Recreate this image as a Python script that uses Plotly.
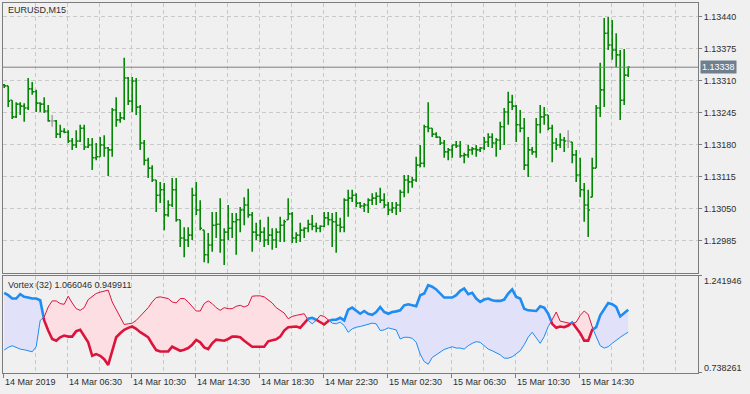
import numpy as np
import plotly.graph_objects as go

# ---------------- data ----------------
opens = [1.13302, 1.13300, 1.13271, 1.13237, 1.13263, 1.13259, 1.13255, 1.13294, 1.13288, 1.13265,
         1.13263, 1.13249, 1.13229, 1.13229, 1.13202, 1.13208, 1.13206, 1.13188, 1.13180, 1.13188,
         1.13214, 1.13176, 1.13180, 1.13154, 1.13156, 1.13180, 1.13174, 1.13170, 1.13251, 1.13231,
         1.13235, 1.13316, 1.13269, 1.13310, 1.13257, 1.13184, 1.13149, 1.13133, 1.13109, 1.13078,
         1.13089, 1.13038, 1.13058, 1.13089, 1.13028, 1.12991, 1.12987, 1.12997, 1.13078, 1.13048,
         1.13007, 1.12957, 1.12977, 1.13017, 1.13019, 1.12987, 1.13003, 1.13011, 1.13024, 1.13028,
         1.13048, 1.13058, 1.13038, 1.13003, 1.12997, 1.13003, 1.12987, 1.12997, 1.12987, 1.13003,
         1.13017, 1.13028, 1.13040, 1.12991, 1.12997, 1.13007, 1.13011, 1.13019, 1.13015, 1.13011,
         1.13015, 1.13032, 1.13028, 1.13024, 1.13017, 1.13013, 1.13068, 1.13072, 1.13078, 1.13062,
         1.13056, 1.13058, 1.13068, 1.13072, 1.13076, 1.13068, 1.13058, 1.13048, 1.13052, 1.13058,
         1.13084, 1.13109, 1.13105, 1.13109, 1.13139, 1.13143, 1.13217, 1.13214, 1.13202, 1.13196,
         1.13184, 1.13166, 1.13170, 1.13180, 1.13178, 1.13158, 1.13160, 1.13170, 1.13172, 1.13170,
         1.13174, 1.13186, 1.13196, 1.13184, 1.13190, 1.13217, 1.13247, 1.13267, 1.13259, 1.13221,
         1.13214, 1.13139, 1.13170, 1.13166, 1.13221, 1.13237, 1.13241, 1.13214, 1.13184, 1.13180,
         1.13190, 1.13188, 1.13186, 1.13160, 1.13119, 1.13089, 1.13058, 1.13074, 1.13133, 1.13255,
         1.13292, 1.13407, 1.13383, 1.13373, 1.13363, 1.13271, 1.13322]

highs = [1.13304, 1.13300, 1.13271, 1.13267, 1.13267, 1.13265, 1.13316, 1.13308, 1.13292, 1.13267,
         1.13277, 1.13261, 1.13241, 1.13231, 1.13221, 1.13214, 1.13210, 1.13194, 1.13210, 1.13221,
         1.13221, 1.13194, 1.13194, 1.13184, 1.13196, 1.13200, 1.13176, 1.13255, 1.13277, 1.13247,
         1.13357, 1.13318, 1.13318, 1.13316, 1.13261, 1.13190, 1.13154, 1.13139, 1.13109, 1.13105,
         1.13103, 1.13068, 1.13113, 1.13113, 1.13028, 1.13013, 1.13013, 1.13093, 1.13105, 1.13068,
         1.13007, 1.13001, 1.13044, 1.13044, 1.13072, 1.13011, 1.13058, 1.13042, 1.13042, 1.13054,
         1.13074, 1.13091, 1.13044, 1.13022, 1.13028, 1.13013, 1.13034, 1.13011, 1.13011, 1.13034,
         1.13028, 1.13072, 1.13044, 1.13003, 1.13022, 1.13013, 1.13028, 1.13038, 1.13022, 1.13017,
         1.13044, 1.13044, 1.13042, 1.13044, 1.13032, 1.13072, 1.13089, 1.13089, 1.13082, 1.13064,
         1.13062, 1.13072, 1.13082, 1.13084, 1.13093, 1.13082, 1.13064, 1.13064, 1.13064, 1.13089,
         1.13119, 1.13119, 1.13115, 1.13156, 1.13180, 1.13221, 1.13267, 1.13214, 1.13206, 1.13196,
         1.13190, 1.13174, 1.13180, 1.13188, 1.13188, 1.13164, 1.13180, 1.13176, 1.13180, 1.13176,
         1.13196, 1.13204, 1.13204, 1.13194, 1.13227, 1.13255, 1.13288, 1.13282, 1.13261, 1.13251,
         1.13235, 1.13196, 1.13176, 1.13235, 1.13261, 1.13257, 1.13241, 1.13221, 1.13194, 1.13204,
         1.13196, 1.13210, 1.13186, 1.13170, 1.13154, 1.13103, 1.13089, 1.13154, 1.13261, 1.13347,
         1.13438, 1.13440, 1.13434, 1.13407, 1.13373, 1.13375, 1.13340]

lows = [1.13296, 1.13257, 1.13233, 1.13235, 1.13241, 1.13227, 1.13251, 1.13282, 1.13247, 1.13247,
        1.13245, 1.13227, 1.13217, 1.13194, 1.13194, 1.13204, 1.13184, 1.13170, 1.13174, 1.13186,
        1.13170, 1.13174, 1.13129, 1.13149, 1.13156, 1.13156, 1.13117, 1.13156, 1.13217, 1.13225,
        1.13231, 1.13261, 1.13247, 1.13241, 1.13170, 1.13139, 1.13113, 1.13105, 1.13044, 1.13062,
        1.13007, 1.13034, 1.13054, 1.13024, 1.12973, 1.12952, 1.12973, 1.12987, 1.13038, 1.13007,
        1.12942, 1.12940, 1.12963, 1.12991, 1.12961, 1.12936, 1.12987, 1.12991, 1.12957, 1.13003,
        1.13017, 1.13032, 1.12963, 1.12987, 1.12983, 1.12973, 1.12977, 1.12967, 1.12971, 1.12983,
        1.12983, 1.13028, 1.12981, 1.12981, 1.12983, 1.12991, 1.13003, 1.13007, 1.13003, 1.13003,
        1.13013, 1.13017, 1.12973, 1.12961, 1.13003, 1.13003, 1.13034, 1.13064, 1.13054, 1.13052,
        1.13044, 1.13042, 1.13058, 1.13058, 1.13062, 1.13052, 1.13038, 1.13042, 1.13038, 1.13044,
        1.13074, 1.13082, 1.13093, 1.13105, 1.13135, 1.13135, 1.13206, 1.13196, 1.13194, 1.13180,
        1.13154, 1.13149, 1.13154, 1.13174, 1.13154, 1.13143, 1.13154, 1.13160, 1.13156, 1.13166,
        1.13170, 1.13176, 1.13174, 1.13156, 1.13170, 1.13180, 1.13221, 1.13251, 1.13186, 1.13206,
        1.13129, 1.13115, 1.13160, 1.13154, 1.13204, 1.13221, 1.13210, 1.13145, 1.13170, 1.13174,
        1.13166, 1.13174, 1.13143, 1.13105, 1.13074, 1.13024, 1.12993, 1.13074, 1.13133, 1.13237,
        1.13257, 1.13373, 1.13353, 1.13338, 1.13231, 1.13261, 1.13318]

closes = [1.13300, 1.13269, 1.13237, 1.13263, 1.13259, 1.13255, 1.13294, 1.13288, 1.13265, 1.13263,
          1.13249, 1.13229, 1.13229, 1.13202, 1.13208, 1.13206, 1.13188, 1.13180, 1.13188, 1.13214,
          1.13176, 1.13180, 1.13154, 1.13156, 1.13180, 1.13174, 1.13170, 1.13251, 1.13231, 1.13235,
          1.13316, 1.13269, 1.13310, 1.13257, 1.13184, 1.13149, 1.13133, 1.13109, 1.13078, 1.13089,
          1.13038, 1.13058, 1.13089, 1.13028, 1.12991, 1.12987, 1.12997, 1.13078, 1.13048, 1.13011,
          1.12957, 1.12977, 1.13017, 1.13019, 1.12987, 1.13003, 1.13011, 1.13024, 1.13028, 1.13048,
          1.13058, 1.13038, 1.13003, 1.12997, 1.13003, 1.12987, 1.12997, 1.12987, 1.13003, 1.13017,
          1.13024, 1.13040, 1.12991, 1.12997, 1.13007, 1.13011, 1.13019, 1.13015, 1.13011, 1.13015,
          1.13032, 1.13028, 1.13024, 1.13017, 1.13013, 1.13068, 1.13072, 1.13078, 1.13062, 1.13056,
          1.13058, 1.13068, 1.13072, 1.13076, 1.13068, 1.13058, 1.13048, 1.13052, 1.13058, 1.13084,
          1.13109, 1.13105, 1.13109, 1.13139, 1.13143, 1.13217, 1.13214, 1.13202, 1.13196, 1.13184,
          1.13166, 1.13170, 1.13180, 1.13178, 1.13158, 1.13160, 1.13170, 1.13172, 1.13170, 1.13174,
          1.13186, 1.13196, 1.13184, 1.13190, 1.13217, 1.13247, 1.13267, 1.13259, 1.13221, 1.13214,
          1.13139, 1.13170, 1.13166, 1.13221, 1.13237, 1.13241, 1.13214, 1.13184, 1.13180, 1.13190,
          1.13188, 1.13188, 1.13160, 1.13119, 1.13089, 1.13058, 1.13048, 1.13133, 1.13255, 1.13292,
          1.13407, 1.13383, 1.13373, 1.13363, 1.13271, 1.13322, 1.13338]

vi_plus = [1.15450, 1.14226, 1.12477, 1.12477, 1.14751, 1.13352, 1.13002, 1.12477, 1.12477, 1.11603,
           1.01109, 0.95863, 0.91491, 0.90616, 0.92365, 0.93239, 0.92715, 0.92715, 0.95513, 0.96213,
           0.93239, 0.89742, 0.82746, 0.83620, 0.82746, 0.80997, 0.78024, 0.85369, 0.92365, 0.94464,
           0.96213, 0.97262, 0.97961, 0.96737, 0.94988, 0.93764, 0.92365, 0.88867, 0.85719, 0.85020,
           0.85020, 0.85020, 0.87468, 0.86244, 0.85369, 0.85894, 0.86769, 0.88517, 0.90966, 0.89742,
           0.87118, 0.86244, 0.89217, 0.91141, 0.90966, 0.90616, 0.91491, 0.92715, 0.92715, 0.92365,
           0.90616, 0.89217, 0.87468, 0.87468, 0.87468, 0.87468, 0.90266, 0.90616, 0.91316, 0.92715,
           0.95863, 0.97612, 0.97961, 0.97961, 0.97262, 0.99361, 1.01984, 1.02509, 1.01459, 1.00235,
           0.99011, 1.00760, 1.01459, 1.01459, 1.02509, 1.01109, 1.06706, 1.07755, 1.06006, 1.04607,
           1.06006, 1.04607, 1.04083, 1.05482, 1.08105, 1.05482, 1.04607, 1.05482, 1.05832, 1.06356,
           1.08980, 1.09504, 1.08980, 1.08455, 1.14226, 1.15101, 1.19473, 1.18598, 1.17199, 1.15101,
           1.13002, 1.13002, 1.13002, 1.14226, 1.16500, 1.17724, 1.14751, 1.15450, 1.12477, 1.10728,
           1.11953, 1.12477, 1.11603, 1.11253, 1.11253, 1.11953, 1.15101, 1.17199, 1.13352, 1.12477,
           1.07231, 1.06356, 1.06356, 1.06006, 1.08455, 1.07755, 1.04607, 0.99361, 0.97262, 0.97961,
           0.97612, 0.98486, 1.00060, 0.97262, 0.94464, 0.90616, 0.90616, 0.96213, 0.97612, 1.03733,
           1.07231, 1.10204, 1.09504, 1.08105, 1.03208, 1.04957, 1.066046]

vi_minus = [0.85719, 0.87118, 0.87993, 0.87118, 0.86244, 0.85894, 0.85369, 0.84845, 0.87468, 1.01109,
            1.02858, 1.08105, 1.11253, 1.11253, 1.09854, 1.09504, 1.13702, 1.10204, 1.07231, 1.06356,
            1.07755, 1.11953, 1.13702, 1.15101, 1.15800, 1.16150, 1.16850, 1.10728, 1.06706, 1.02858,
            0.99011, 0.99361, 0.99710, 1.01109, 1.03208, 1.05482, 1.07755, 1.10728, 1.13002, 1.13352,
            1.13002, 1.12477, 1.10728, 1.10204, 1.12477, 1.12477, 1.10728, 1.08105, 1.06006, 1.06006,
            1.09854, 1.11253, 1.09854, 1.07755, 1.06356, 1.07755, 1.07231, 1.07231, 1.08455, 1.08980,
            1.08105, 1.08980, 1.13702, 1.13876, 1.13876, 1.13352, 1.11603, 1.10204, 1.07755, 1.06356,
            1.04957, 1.01984, 1.03208, 1.03733, 1.04258, 1.04607, 1.01109, 0.99361, 1.01109, 1.03733,
            1.03208, 1.01459, 0.99710, 0.99361, 1.00235, 0.98486, 0.94988, 0.96737, 0.97612, 0.97961,
            0.98486, 0.99011, 0.99710, 0.99361, 0.95863, 0.96213, 0.97262, 0.96737, 0.96213, 0.91491,
            0.92365, 0.92365, 0.91840, 0.89742, 0.83620, 0.79773, 0.78374, 0.81872, 0.83271, 0.85020,
            0.86069, 0.86769, 0.87468, 0.86769, 0.86769, 0.86244, 0.87993, 0.89217, 0.90092, 0.89742,
            0.87993, 0.86244, 0.85369, 0.84495, 0.83271, 0.81522, 0.81522, 0.82221, 0.83620, 0.85369,
            0.88517, 0.92365, 0.94988, 0.92365, 0.89217, 0.92715, 0.97961, 1.01459, 1.05482, 1.00760,
            1.00235, 0.99710, 0.99361, 1.00235, 1.03733, 1.06006, 1.04258, 0.97612, 0.92365, 0.87993,
            0.86769, 0.87468, 0.89217, 0.90966, 0.92365, 0.93764, 0.949911]

price_ticks = [1.12985, 1.13050, 1.13115, 1.13180, 1.13245, 1.13310, 1.13375, 1.13440]
vortex_range = [0.738261, 1.241946]
x_tick_bars = [0, 16, 32, 48, 64, 80, 96, 112, 128, 144]
x_tick_labels = ["14 Mar 2019", "14 Mar 06:30", "14 Mar 10:30", "14 Mar 14:30", "14 Mar 18:30",
                 "14 Mar 22:30", "15 Mar 02:30", "15 Mar 06:30", "15 Mar 10:30", "15 Mar 14:30"]
symbol_title = "EURUSD,M15"
vortex_period = 32

# ---------------- style ----------------
FONT = "Liberation Sans"
TXT = "#2E2E2E"
FRAME = "#7C7C7C"
GRID = "#C9C9C9"
BG = "#F0F0F0"
BAR = "#068806"
DOJI = "#A8A8A8"
BLUE = "#1E8CF0"
RED = "#DC143C"
BLUE_FILL = "#E1E1FA"
RED_FILL = "#FDDFE3"

n = len(closes)
xi = np.arange(n)
X_RANGE = [-0.3, 173.45]
grid_pos = [8 * m - 0.3 for m in range(22)]
tick_pos = [b - 0.3 for b in x_tick_bars]

fig = go.Figure()

# ---------------- price bars ----------------
o = np.array(opens); h = np.array(highs); l = np.array(lows); c = np.array(closes)
neutral = o == c
normal = ~neutral
fig.add_trace(go.Ohlc(
    x=xi[normal], open=o[normal], high=h[normal], low=l[normal], close=c[normal],
    increasing=dict(line=dict(color=BAR, width=1.6)),
    decreasing=dict(line=dict(color=BAR, width=1.6)),
    tickwidth=0.45, xaxis="x", yaxis="y", hoverinfo="skip", showlegend=False))
fig.add_trace(go.Ohlc(
    x=xi[neutral], open=o[neutral], high=h[neutral], low=l[neutral], close=c[neutral],
    increasing=dict(line=dict(color=DOJI, width=1.6)),
    decreasing=dict(line=dict(color=DOJI, width=1.6)),
    tickwidth=0.45, xaxis="x", yaxis="y", hoverinfo="skip", showlegend=False))

# ---------------- vortex ----------------
vp = np.array(vi_plus); vm = np.array(vi_minus)
up = vp >= vm
segments = []
start = 0
for i in range(1, n + 1):
    if i == n or up[i] != up[start]:
        segments.append((start, i - 1))
        start = i


def cross(i):
    d0 = vp[i] - vm[i]
    d1 = vp[i + 1] - vm[i + 1]
    t = d0 / (d0 - d1)
    return i + t, vp[i] + t * (vp[i + 1] - vp[i]), vm[i] + t * (vm[i + 1] - vm[i])


seg_data = []
for a, b in segments:
    xs = list(xi[a:b + 1].astype(float)); ps = list(vp[a:b + 1]); ms = list(vm[a:b + 1])
    if a > 0:
        xc, pc, mc = cross(a - 1)
        xs.insert(0, xc); ps.insert(0, pc); ms.insert(0, mc)
    if b < n - 1:
        xc, pc, mc = cross(b)
        xs.append(xc); ps.append(pc); ms.append(mc)
    seg_data.append((xs, ps, ms, bool(up[a])))

for xs, ps, ms, is_up in seg_data:
    fig.add_trace(go.Scatter(
        x=xs + xs[::-1], y=ps + ms[::-1], fill="toself",
        fillcolor=BLUE_FILL if is_up else RED_FILL, line=dict(width=0),
        mode="lines", xaxis="x2", yaxis="y2", hoverinfo="skip", showlegend=False))

for xs, ps, ms, is_up in seg_data:
    col = BLUE if is_up else RED
    fig.add_trace(go.Scatter(x=xs, y=ms, mode="lines", line=dict(color=col, width=1),
                             xaxis="x2", yaxis="y2", hoverinfo="skip", showlegend=False))
    fig.add_trace(go.Scatter(x=xs, y=ps, mode="lines", line=dict(color=col, width=2.6),
                             xaxis="x2", yaxis="y2", hoverinfo="skip", showlegend=False))

# ---------------- layout ----------------
main_dom = [0.2703, 1.0]
ind_dom = [0.0, 0.2622]

axis_font = dict(family=FONT, size=9, color=TXT)

fig.update_layout(
    width=750, height=394,
    margin=dict(l=3, r=52, t=3, b=21),
    paper_bgcolor=BG, plot_bgcolor=BG,
    showlegend=False,
    font=axis_font,
    xaxis=dict(domain=[0, 1], anchor="y", range=X_RANGE, rangeslider=dict(visible=False),
               tickmode="array", tickvals=grid_pos, showticklabels=False, ticks="",
               showgrid=True, gridcolor=GRID, griddash="4px,3px", gridwidth=1,
               showline=True, mirror=True, linecolor=FRAME, linewidth=1, zeroline=False),
    yaxis=dict(domain=main_dom, anchor="x", side="right", range=[1.12920, 1.134684],
               tickmode="array", tickvals=price_ticks,
               ticktext=[f"{p:.5f}" for p in price_ticks],
               ticks="outside", ticklen=3, tickcolor=FRAME, tickfont=axis_font,
               showgrid=True, gridcolor=GRID, griddash="4px,3px", gridwidth=1,
               showline=True, mirror=True, linecolor=FRAME, linewidth=1, zeroline=False),
    xaxis2=dict(domain=[0, 1], anchor="y2", range=X_RANGE,
                tickmode="array", tickvals=tick_pos, showticklabels=False,
                ticks="outside", ticklen=4, tickcolor=FRAME,
                showgrid=True, gridcolor=GRID, griddash="4px,3px", gridwidth=1,
                minor=dict(tickmode="array", tickvals=grid_pos, showgrid=True, gridcolor=GRID,
                           griddash="4px,3px", ticks=""),
                showline=True, mirror=True, linecolor=FRAME, linewidth=1, zeroline=False),
    yaxis2=dict(domain=ind_dom, anchor="x2", side="right", range=vortex_range,
                tickmode="array", tickvals=vortex_range, showticklabels=False,
                ticks="outside", ticklen=3, tickcolor=FRAME, showgrid=False,
                showline=True, mirror=True, linecolor=FRAME, linewidth=1, zeroline=False),
)

# current price line
last_price = closes[-1]
fig.add_shape(type="line", xref="paper", yref="y", x0=0, x1=1, y0=last_price, y1=last_price,
              line=dict(color="#7E7E7E", width=1))

annotations = []
annotations.append(dict(xref="paper", yref="y", x=1, y=last_price, xanchor="left", yanchor="middle",
                        xshift=2, text=f"{last_price:.5f}", showarrow=False,
                        font=dict(family=FONT, size=9, color="#FFFFFF"),
                        bgcolor="#6F7F8E", borderpad=1))
annotations.append(dict(xref="paper", yref="paper", x=0.005, y=0.981, xanchor="left", yanchor="middle",
                        text=symbol_title, showarrow=False, font=axis_font))
annotations.append(dict(xref="paper", yref="paper", x=0.005, y=0.239, xanchor="left", yanchor="middle",
                        text=f"Vortex ({vortex_period}) {vi_plus[-1]:.6f} {vi_minus[-1]:.6f}",
                        showarrow=False, font=axis_font))
annotations.append(dict(xref="paper", yref="paper", x=1, y=0.2486, xanchor="left", yanchor="middle",
                        xshift=4, text=f"{vortex_range[1]:.6f}", showarrow=False, font=axis_font))
annotations.append(dict(xref="paper", yref="paper", x=1, y=0.0143, xanchor="left", yanchor="middle",
                        xshift=4, text=f"{vortex_range[0]:.6f}", showarrow=False, font=axis_font))
for pos, lab in zip(tick_pos, x_tick_labels):
    annotations.append(dict(xref="x2", yref="paper", x=pos, y=-0.0243, xanchor="left", yanchor="middle",
                            xshift=0, text=lab, showarrow=False, font=axis_font))
fig.update_layout(annotations=annotations)

fig.write_html("out.html", config={"displayModeBar": False},
               post_script="document.body.style.margin='0px';document.body.style.padding='0px';"
                           "document.body.style.background='#F0F0F0';")
